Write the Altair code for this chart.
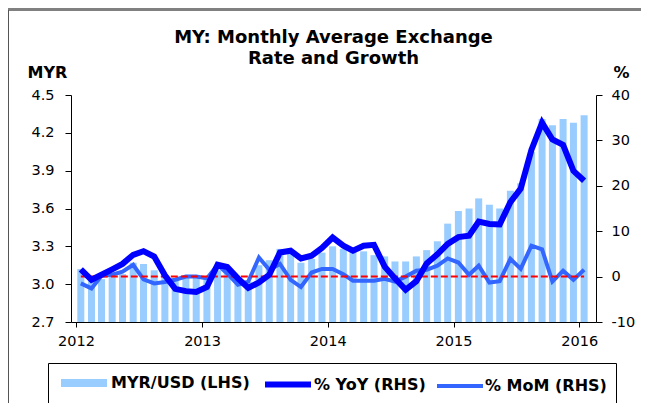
import altair as alt
import pandas as pd

# ---- data ----
months = [f"{y}-{m:02d}-15" for y in range(2012, 2016) for m in range(1, 13)] + ["2016-01-15"]

myr_usd = [
    3.12, 3.03, 3.04, 3.06, 3.08, 3.17, 3.16, 3.11, 3.07, 3.05, 3.06, 3.05,
    3.04, 3.11, 3.10, 3.05, 3.02, 3.15, 3.19, 3.28, 3.25, 3.17, 3.20, 3.25,
    3.30, 3.28, 3.26, 3.26, 3.23, 3.22, 3.18, 3.18, 3.22, 3.27, 3.34, 3.48,
    3.58, 3.60, 3.68, 3.63, 3.60, 3.74, 3.80, 4.05, 4.31, 4.26, 4.31, 4.28,
    4.34,
]
yoy = [
    1.6, -0.7, 0.4, 1.6, 2.8, 4.8, 5.6, 4.4, 0.3, -2.7, -3.2, -3.4,
    -2.3, 2.6, 2.1, -0.4, -2.5, -1.3, 0.4, 5.3, 5.7, 4.0, 4.6, 6.3,
    8.6, 6.8, 5.7, 6.8, 7.0, 2.2, -0.4, -2.9, -1.0, 2.9, 4.9, 7.2,
    8.7, 9.0, 12.1, 11.6, 11.5, 16.4, 19.4, 27.9, 33.9, 30.2, 29.0, 23.3,
    21.1,
]
mom = [
    -1.5, -2.6, 0.2, 0.4, 1.1, 2.6, -0.6, -1.5, -1.2, -0.7, 0.0, 0.0,
    -0.4, 2.6, 0.7, -1.8, -1.1, 4.2, 1.5, 2.8, -0.7, -2.3, 0.9, 1.7,
    1.7, 0.5, -0.9, -0.9, -0.9, -0.5, -1.1, 0.0, 1.3, 1.5, 2.4, 4.0,
    3.1, 0.4, 2.4, -1.3, -1.0, 3.9, 1.7, 6.8, 6.0, -1.1, 1.3, -0.7,
    1.5,
]
series_names = ["MYR/USD (LHS)", "% YoY (RHS)", "% MoM (RHS)"]
series_colors = ["#99CCFF", "#0000FF", "#3366FF"]
series_widths = [8, 4, 1.75]
year_ticks = [2012, 2013, 2014, 2015, 2016]
left_ticks = [2.7, 3.0, 3.3, 3.6, 3.9, 4.2, 4.5]
right_ticks = [-10, 0, 10, 20, 30, 40]

df = pd.DataFrame({"date": months, "myr": myr_usd, "yoy": yoy, "mom": mom})
df["base"] = 2.7
df["zero"] = 0.0
long = pd.concat([
    pd.DataFrame({"date": months, "value": yoy, "series": series_names[1]}),
    pd.DataFrame({"date": months, "value": mom, "series": series_names[2]}),
])

FONT = "DejaVu Sans"

x_enc = alt.X(
    "date:T",
    scale=alt.Scale(type="utc",
                    domain=[alt.DateTime(year=2012, month=1, date=1, utc=True),
                            alt.DateTime(year=2016, month=2, date=4, utc=True)]),
    axis=alt.Axis(values=[alt.DateTime(year=y, month=1, date=1, utc=True) for y in year_ticks],
                  format="%Y", title=None, grid=False, tickSize=5, labelPadding=7,
                  labelFontSize=14.5, domainColor="black", tickColor="black",
                  labelFlush=False),
)

left_axis = alt.Axis(values=left_ticks, format=".1f", grid=False, tickSize=6,
                     labelPadding=11, labelFontSize=14.5, title="MYR", titleAngle=0,
                     titleAlign="left", titleBaseline="alphabetic", titleX=-44, titleY=-18,
                     titleFontSize=16, titleFontWeight="bold", titleFont=FONT)
right_axis = alt.Axis(values=right_ticks, orient="right", labelExpr="'' + datum.value",
                      grid=False, tickSize=6, labelPadding=9, labelFontSize=14.5,
                      title="%", titleAngle=0, titleAlign="left", titleBaseline="alphabetic",
                      titleX=17, titleY=-18, titleFontSize=16, titleFontWeight="bold",
                      titleFont=FONT)
right_scale = alt.Scale(domain=[-10, 40], nice=False, zero=False)

# legend symbol: a long horizontal stroke (46px) in a 14px symbol box
leg = alt.Legend(title=None, orient="none", legendX=-23, legendY=268,
                 direction="horizontal", symbolType="M-3.2857,0H3.2857", symbolSize=196,
                 symbolOffset=16, labelOffset=16,
                 labelFont=FONT, labelFontSize=16, labelFontWeight="bold",
                 labelColor="black", columnPadding=3,
                 strokeColor="black", padding=9)

stroke_enc = alt.Stroke("series:N", scale=alt.Scale(domain=series_names, range=series_colors),
                        legend=leg)
width_enc = alt.StrokeWidth("series:N", scale=alt.Scale(domain=series_names, range=series_widths),
                            legend=leg)

bars = alt.Chart(df).mark_bar(color="#99CCFF", size=7).encode(
    x=x_enc,
    y=alt.Y("myr:Q", scale=alt.Scale(domain=[2.7, 4.5], nice=False, zero=False), axis=left_axis),
    y2="base:Q",
)

mom_line = alt.Chart(long).transform_filter(alt.datum.series == series_names[2]).mark_line().encode(
    x=x_enc, y=alt.Y("value:Q", scale=right_scale, axis=right_axis),
    stroke=stroke_enc, strokeWidth=width_enc,
)
zero_line = alt.Chart(df).mark_line(color="#FF0000", strokeDash=[7, 3], strokeWidth=2).encode(
    x=x_enc, y=alt.Y("zero:Q", scale=right_scale, axis=right_axis),
)
yoy_line = alt.Chart(long).transform_filter(alt.datum.series == series_names[1]).mark_line().encode(
    x=x_enc, y=alt.Y("value:Q", scale=right_scale, axis=right_axis),
    stroke=stroke_enc, strokeWidth=width_enc,
)

# outer frame decoration (a thin grey band on top, a dark line on the left)
frame_top = alt.Chart(df).mark_rect(color="#808080").encode(
    x=alt.value(-63), x2=alt.value(570), y=alt.value(-86.5), y2=alt.value(-84.5))
frame_left = alt.Chart(df).mark_rect(color="#555555").encode(
    x=alt.value(-63), x2=alt.value(-62), y=alt.value(-85), y2=alt.value(308))

rhs = alt.layer(mom_line, zero_line, yoy_line)

chart = alt.layer(frame_top, frame_left, bars, rhs).resolve_scale(y="independent").properties(
    width=525, height=227,
    autosize=alt.AutoSizeParams(type="none"),
    padding={"left": 63, "top": 87, "right": 45, "bottom": 81},
    title=alt.TitleParams(text=["MY: Monthly Average Exchange", "Rate and Growth"],
                          font=FONT, fontSize=18, fontWeight="bold", color="black",
                          anchor="middle", lineHeight=21, offset=4, dy=63),
).configure_view(stroke=None).configure_axis(
    labelFont=FONT, labelColor="black", domainColor="black", tickColor="black",
    titleColor="black",
)

chart.save("out.html", embed_options={"renderer": "svg", "actions": False})
